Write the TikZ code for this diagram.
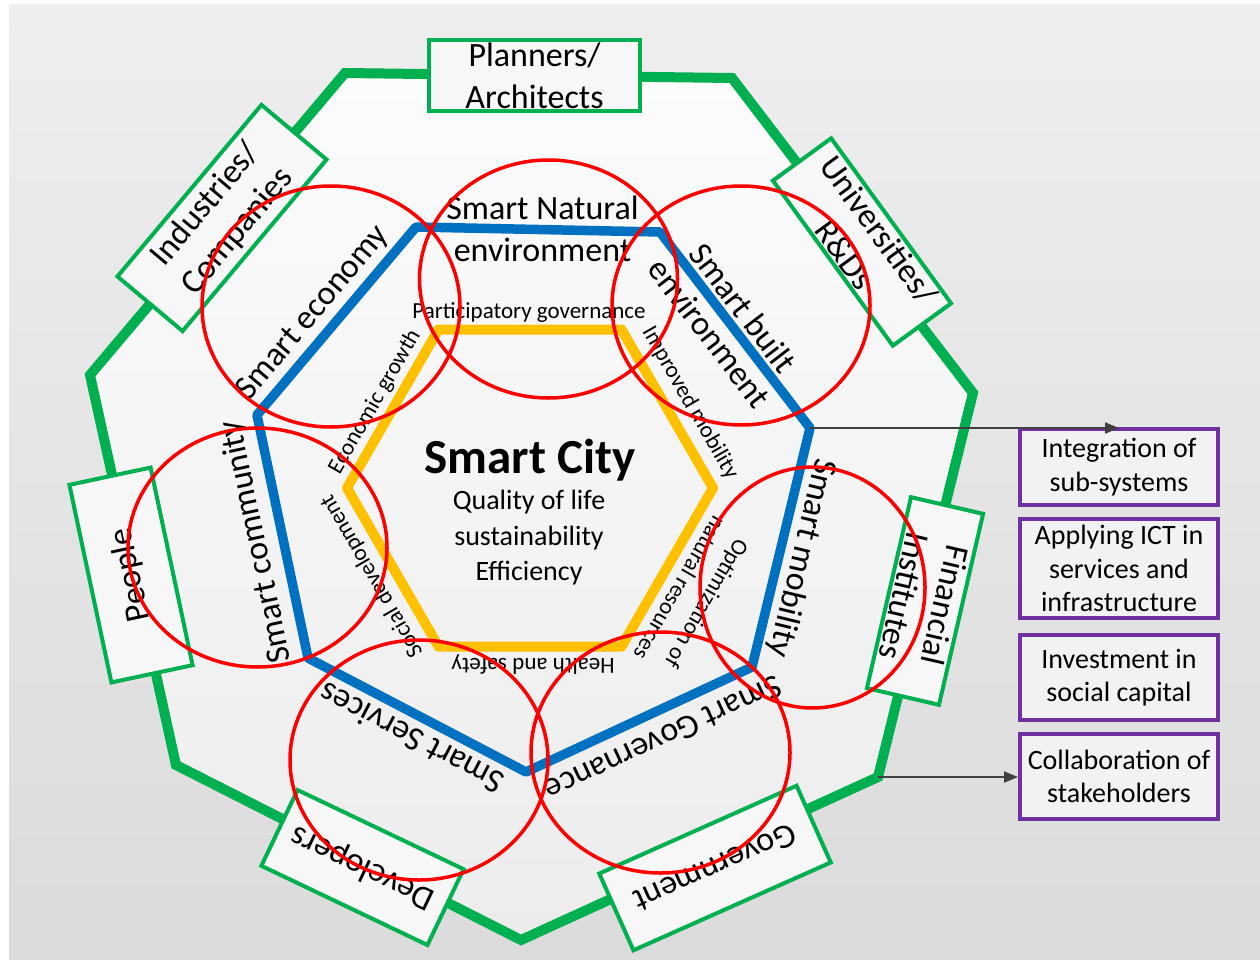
\documentclass[tikz,border=0pt]{standalone}
\usepackage{fontspec}
\setmainfont{Carlito}
\usetikzlibrary{shapes.geometric,arrows.meta}
\definecolor{grn}{HTML}{00B050}
\definecolor{blu}{HTML}{0070C0}
\definecolor{ylw}{HTML}{FFC000}
\definecolor{prp}{HTML}{7030A0}
\definecolor{arr}{HTML}{404040}
\definecolor{bgtop}{RGB}{238,238,238}
\definecolor{bgbot}{RGB}{219,219,219}
\definecolor{intop}{RGB}{252,252,252}
\definecolor{inbot}{RGB}{236,236,236}
\begin{document}
\begin{tikzpicture}[x=1pt,y=-1pt,
  stake/.style={draw=grn, line width=4pt, fill=white!97!black, align=center, inner sep=0pt, font=\fontsize{34}{42}\selectfont},
  biglab/.style={align=center, inner sep=0pt, font=\fontsize{34}{42}\selectfont},
  smalllab/.style={align=center, inner sep=0pt, font=\fontsize{23}{31}\selectfont},
  goal/.style={draw=prp, line width=4pt, fill=white!95!black, align=center, inner sep=0pt, minimum width=198pt, font=\fontsize{28}{33.5}\selectfont},
  focus/.style={draw=red, line width=3.5pt, ellipse, inner sep=0pt},
  link/.style={draw=arr, line width=2pt, -{Triangle[length=14pt,width=11pt]}}
]
\useasboundingbox (0,0) rectangle (1260,960);
\fill[white] (0,0) rectangle (1260,960);
\shade[top color=bgtop, bottom color=bgbot] (9,5) rectangle (1260,960);

% outer green heptagon
\coordinate (g1) at (345,73);
\coordinate (g2) at (732,78);
\coordinate (g3) at (973,393);
\coordinate (g4) at (878,777);
\coordinate (g5) at (521,940);
\coordinate (g6) at (176,765);
\coordinate (g7) at (90,375);
\shade[top color=intop, bottom color=inbot] (g1)--(g2)--(g3)--(g4)--(g5)--(g6)--(g7)--cycle;
\draw[grn, line width=10pt] (g1)--(g2)--(g3)--(g4)--(g5)--(g6)--(g7)--cycle;

% stakeholders
\node[stake, minimum width=211pt, minimum height=71pt] (plan) at (534.5,75.5) {Planners/\\Architects};
\node[stake, rotate=50, minimum width=224pt, minimum height=85pt] (ind) at (222,218) {Industries/\\Companies};
\node[stake, rotate=-54, minimum width=204pt, minimum height=72pt] (uni) at (862,242) {Universities/\\R\&Ds};
\node[stake, rotate=-103, minimum width=196pt, minimum height=74pt] (fin) at (925,601) {Financial\\Institutes};
\node[stake, rotate=204, minimum width=216pt, minimum height=84pt] (gov) at (715,868) {Government};
\node[stake, rotate=154.5, minimum width=184pt, minimum height=84pt] (dev) at (362.5,867.5) {Developers};
\node[stake, rotate=102, minimum width=202pt, minimum height=83pt] (ppl) at (131,575) {People};

% blue heptagon
\coordinate (b1) at (416,227);
\coordinate (b2) at (660,232);
\coordinate (b3) at (810,428);
\coordinate (b4) at (752,667);
\coordinate (b5) at (526,772);
\coordinate (b6) at (308,658);
\coordinate (b7) at (257,415);
\draw[blu, line width=9.5pt, line join=round] (b1)--(b2)--(b3)--(b4)--(b5)--(b6)--(b7)--cycle;

% yellow hexagon
\coordinate (y0) at (713,488);
\coordinate (y1) at (621.5,329.5);
\coordinate (y2) at (438.5,329.5);
\coordinate (y3) at (347,488);
\coordinate (y4) at (438.5,646.5);
\coordinate (y5) at (621.5,646.5);
\draw[ylw, line width=10pt, line join=round] (y0)--(y1)--(y2)--(y3)--(y4)--(y5)--cycle;

% blue labels
\node[biglab] (lnat) at (542.5,229) {Smart Natural\\environment};
\node[biglab, rotate=-52.6] (lbuilt) at (726.5,320.5) {Smart built\\environment};
\node[biglab, rotate=-103.6] (lmob) at (801.5,558) {Smart mobility};
\node[biglab, rotate=204.9] (lgov) at (663.5,738.5) {Smart Governance};
\node[biglab, rotate=152.4] (lserv) at (411.5,738.5) {Smart Services};
\node[biglab, rotate=102] (lcom) at (256.5,541.5) {Smart community};
\node[biglab, rotate=50] (leco) at (313,313) {Smart economy};

% yellow labels
\node[smalllab] (pg) at (529,313) {Participatory governance};
\node[smalllab, rotate=60] (eg) at (375,402) {Economic growth};
\node[smalllab, rotate=-60] (im) at (690,403) {Improved mobility};
\node[smalllab, rotate=120] (sd) at (372,576) {Social development};
\node[smalllab, rotate=180] (hs) at (533,664.5) {Health and safety};
\node[smalllab, rotate=-120] (onr) at (693.5,596) {Optimization of\\natural resources};

% centre
\node[inner sep=0pt, font=\fontsize{49}{55}\selectfont\bfseries] (sc) at (530,460) {Smart City};
\node[inner sep=0pt, align=center, font=\fontsize{28}{35.5}\selectfont] (qual) at (529,538) {Quality of life\\sustainability\\Efficiency};

% goals
\node[goal, minimum height=76pt] (int) at (1119,467) {Integration of\\sub-systems};
\node[goal, minimum height=99pt] (ict) at (1119,568.5) {Applying ICT in\\services and\\infrastructure};
\node[goal, minimum height=85pt] (inv) at (1119,677.5) {Investment in\\social capital};
\node[goal, minimum height=85pt] (col) at (1119,776.5) {Collaboration of\\stakeholders};

\draw[link] (b3) -- (b3 -| int.north);
\draw[link] (g4) -- (g4 -| col.west);

% red circles
\node[focus, minimum width=258pt, minimum height=241pt] (f1) at (331,306.5) {};
\node[focus, minimum width=258pt, minimum height=238pt] (f2) at (548.5,279) {};
\node[focus, minimum width=258pt, minimum height=239pt] (f3) at (741,305.5) {};
\node[focus, minimum width=259pt, minimum height=239pt] (f4) at (257.5,547.5) {};
\node[focus, minimum width=225pt, minimum height=241pt] (f5) at (812.5,587.5) {};
\node[focus, minimum width=258pt, minimum height=240pt] (f6) at (419,760) {};
\node[focus, minimum width=259pt, minimum height=241pt] (f7) at (660.5,752.5) {};
\end{tikzpicture}
\end{document}
